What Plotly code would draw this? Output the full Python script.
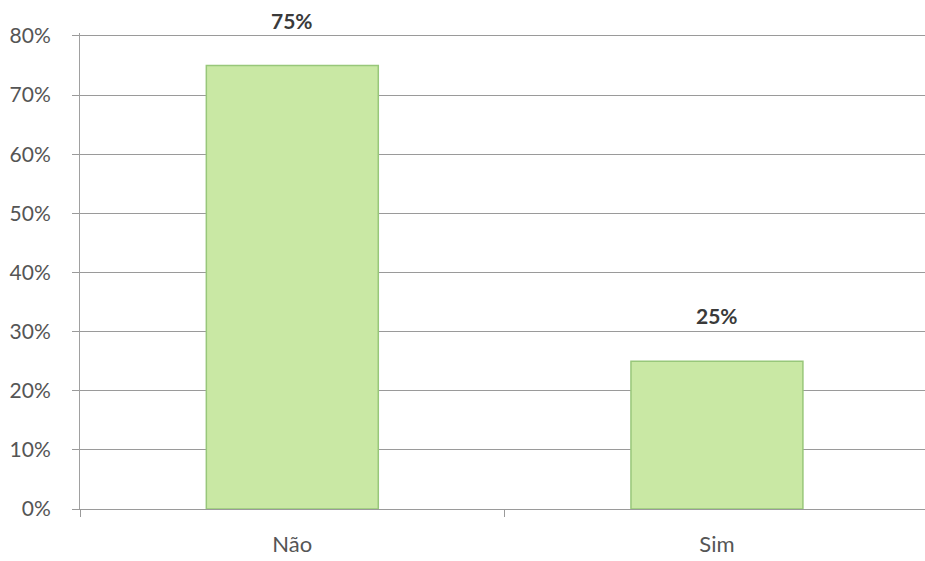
import plotly.graph_objects as go

categories = ["Não", "Sim"]
values = [0.75, 0.25]
labels = ["75%", "25%"]
tick_vals = [0, 0.1, 0.2, 0.3, 0.4, 0.5, 0.6, 0.7, 0.8]
tick_text = ["0%", "10%", "20%", "30%", "40%", "50%", "60%", "70%", "80%"]

fig = go.Figure()
fig.add_trace(go.Bar(
    x=categories, y=values, width=0.405,
    marker=dict(color="#c9e8a4", line=dict(color="#98c77a", width=1.5)),
    hoverinfo="skip",
))
for c, v, t in zip(categories, values, labels):
    fig.add_annotation(x=c, y=v, text="<b>" + t + "</b>", showarrow=False,
                       yanchor="bottom", yshift=31,
                       font=dict(size=21, color="#3a3a3a", family="Lato"))

fig.update_layout(
    width=925, height=561,
    margin=dict(l=80, r=0, t=33, b=52),
    paper_bgcolor="white", plot_bgcolor="white",
    showlegend=False,
    font=dict(family="Lato", size=21, color="#555555"),
)
fig.update_yaxes(range=[0, 0.805], tickvals=tick_vals, ticktext=tick_text,
                 showgrid=True, gridcolor="#9a9a9a", gridwidth=1,
                 showline=True, linecolor="#a0a0a0", linewidth=1,
                 zeroline=False, ticks="outside", ticklen=7, tickcolor="#9a9a9a",
                 ticklabelstandoff=17,
                 tickfont=dict(size=21, color="#555555"))
fig.update_xaxes(range=[-0.5, 1.49], showline=True, linecolor="#9a9a9a", linewidth=1,
                 ticks="outside", tickson="boundaries", ticklen=7,
                 tickcolor="#9a9a9a", ticklabelstandoff=16,
                 tickfont=dict(size=22, color="#555555"))

fig.write_html("out.html")
